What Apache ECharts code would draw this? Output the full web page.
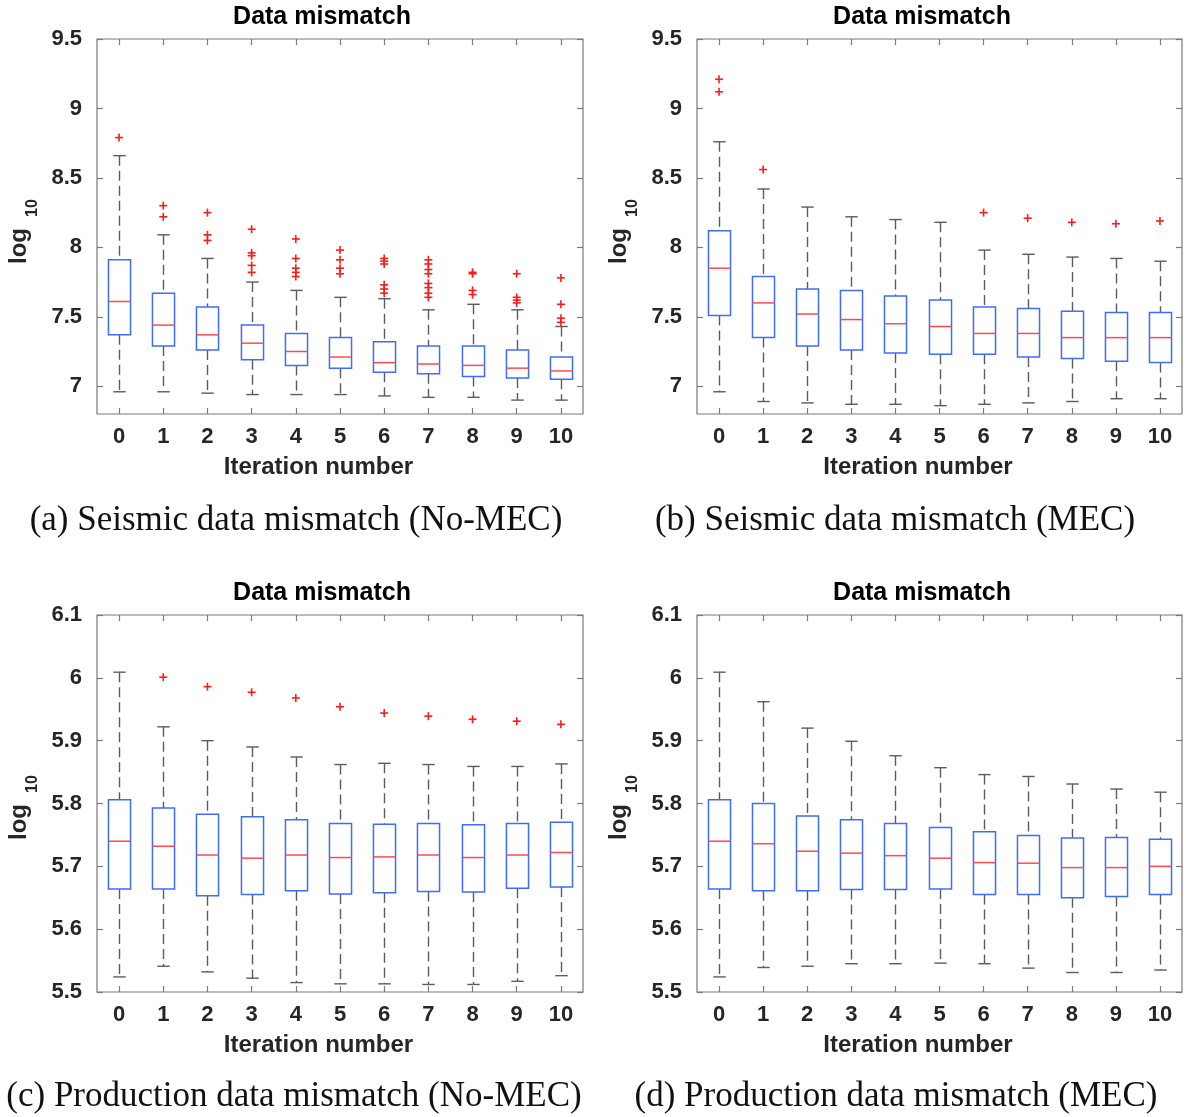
<!DOCTYPE html>
<html>
<head>
<meta charset="utf-8">
<script src="https://cdn.jsdelivr.net/npm/echarts@6/dist/echarts.min.js"></script>
<style>
html,body{margin:0;padding:0;background:#fff;}
#chart{width:1186px;height:1117px;}
</style>
</head>
<body>
<div id="chart"></div>
<script>
// ---------------- data ----------------
const categories = ['0','1','2','3','4','5','6','7','8','9','10'];
const yTicksSeismic = [7, 7.5, 8, 8.5, 9, 9.5];
const yTicksProduction = [5.5, 5.6, 5.7, 5.8, 5.9, 6.0, 6.1];
const panelTitles = ['Data mismatch','Data mismatch','Data mismatch','Data mismatch'];
const captions = ['(a) Seismic data mismatch (No-MEC)','(b) Seismic data mismatch (MEC)',
                  '(c) Production data mismatch (No-MEC)','(d) Production data mismatch (MEC)'];
const xAxisName = 'Iteration number';

// (a) seismic, No-MEC
const aLow  = [6.96, 6.96, 6.95, 6.94, 6.94, 6.94, 6.93, 6.92, 6.92, 6.90, 6.90];
const aQ1   = [7.37, 7.29, 7.26, 7.19, 7.15, 7.13, 7.10, 7.09, 7.07, 7.06, 7.05];
const aMed  = [7.61, 7.44, 7.37, 7.31, 7.25, 7.21, 7.17, 7.16, 7.15, 7.13, 7.11];
const aQ3   = [7.91, 7.67, 7.57, 7.44, 7.38, 7.35, 7.32, 7.29, 7.29, 7.26, 7.21];
const aHigh = [8.66, 8.09, 7.92, 7.75, 7.69, 7.64, 7.63, 7.55, 7.59, 7.55, 7.43];
const aOut  = [[0,8.79],[1,8.30],[1,8.22],[2,8.25],[2,8.09],[2,8.05],
  [3,8.13],[3,7.96],[3,7.94],[3,7.87],[3,7.82],
  [4,8.06],[4,7.92],[4,7.85],[4,7.82],[4,7.79],
  [5,7.98],[5,7.91],[5,7.85],[5,7.81],
  [6,7.92],[6,7.90],[6,7.88],[6,7.73],[6,7.70],[6,7.67],
  [7,7.91],[7,7.88],[7,7.84],[7,7.81],[7,7.74],[7,7.71],[7,7.67],[7,7.64],
  [8,7.82],[8,7.81],[8,7.69],[8,7.66],
  [9,7.81],[9,7.64],[9,7.62],[9,7.60],
  [10,7.78],[10,7.59],[10,7.49],[10,7.46]];

// (b) seismic, MEC
const bLow  = [6.96, 6.89, 6.88, 6.87, 6.87, 6.86, 6.87, 6.88, 6.89, 6.91, 6.91];
const bQ1   = [7.51, 7.35, 7.29, 7.26, 7.24, 7.23, 7.23, 7.21, 7.20, 7.18, 7.17];
const bMed  = [7.85, 7.60, 7.52, 7.48, 7.45, 7.43, 7.38, 7.38, 7.35, 7.35, 7.35];
const bQ3   = [8.12, 7.79, 7.70, 7.69, 7.65, 7.62, 7.57, 7.56, 7.54, 7.53, 7.53];
const bHigh = [8.76, 8.42, 8.29, 8.22, 8.20, 8.18, 7.98, 7.95, 7.93, 7.92, 7.90];
const bOut  = [[0,9.21],[0,9.12],[1,8.56],[6,8.25],[7,8.21],[8,8.18],[9,8.17],[10,8.19]];

// (c) production, No-MEC
const cLow  = [5.524, 5.541, 5.532, 5.522, 5.515, 5.513, 5.513, 5.512, 5.512, 5.517, 5.526];
const cQ1   = [5.664, 5.664, 5.653, 5.655, 5.661, 5.656, 5.658, 5.660, 5.659, 5.665, 5.667];
const cMed  = [5.740, 5.732, 5.718, 5.713, 5.718, 5.714, 5.715, 5.718, 5.714, 5.718, 5.722];
const cQ3   = [5.806, 5.793, 5.783, 5.779, 5.774, 5.768, 5.767, 5.768, 5.766, 5.768, 5.770];
const cHigh = [6.009, 5.922, 5.900, 5.890, 5.874, 5.862, 5.864, 5.862, 5.859, 5.859, 5.863];
const cOut  = [[1,6.001],[2,5.986],[3,5.977],[4,5.968],[5,5.954],[6,5.944],[7,5.939],[8,5.934],[9,5.931],[10,5.926]];

// (d) production, MEC
const dLow  = [5.524, 5.539, 5.541, 5.545, 5.545, 5.546, 5.545, 5.538, 5.531, 5.531, 5.535];
const dQ1   = [5.664, 5.661, 5.661, 5.663, 5.663, 5.664, 5.655, 5.655, 5.650, 5.652, 5.655];
const dMed  = [5.740, 5.736, 5.724, 5.721, 5.717, 5.713, 5.706, 5.705, 5.698, 5.698, 5.700];
const dQ3   = [5.806, 5.800, 5.780, 5.774, 5.768, 5.762, 5.755, 5.749, 5.745, 5.746, 5.743];
const dHigh = [6.009, 5.962, 5.920, 5.899, 5.876, 5.857, 5.846, 5.843, 5.831, 5.823, 5.818];
const dOut  = [];

// ---------------- build ----------------
const SANS = '"Liberation Sans", Arial, Helvetica, sans-serif';
const SERIF = '"Liberation Serif", "DejaVu Serif", serif';
const TICK_LABEL_COLOR = '#262626';
const FRAME_COLOR = '#7a7a7a';

function boxRows(lo, q1, md, q3, hi) {
  return categories.map((c, i) => [i, lo[i], q1[i], md[i], q3[i], hi[i]]);
}

const panels = [
  {rows: boxRows(aLow,aQ1,aMed,aQ3,aHigh), out: aOut, min: 6.8, max: 9.5, ticks: yTicksSeismic,
   grid: {left: 97, top: 39, width: 486, height: 375}},
  {rows: boxRows(bLow,bQ1,bMed,bQ3,bHigh), out: bOut, min: 6.8, max: 9.5, ticks: yTicksSeismic,
   grid: {left: 697, top: 39, width: 485, height: 375}},
  {rows: boxRows(cLow,cQ1,cMed,cQ3,cHigh), out: cOut, min: 5.5, max: 6.1, ticks: yTicksProduction,
   grid: {left: 97, top: 615, width: 486, height: 377}},
  {rows: boxRows(dLow,dQ1,dMed,dQ3,dHigh), out: dOut, min: 5.5, max: 6.1, ticks: yTicksProduction,
   grid: {left: 697, top: 615, width: 485, height: 377}}
];

function fmt(v) { return String(+Number(v).toFixed(2)); }

function renderBox(params, api) {
  const c = api.value(0);
  const lo = api.coord([c, api.value(1)]);
  const q1 = api.coord([c, api.value(2)]);
  const md = api.coord([c, api.value(3)]);
  const q3 = api.coord([c, api.value(4)]);
  const hi = api.coord([c, api.value(5)]);
  const bw = api.size([1, 0])[0];
  const hw = bw * 0.25, cw = bw * 0.14;
  const x = Math.round(lo[0]) + 0.5;
  const wStyle = {stroke: '#5c5c5c', lineWidth: 1.4, lineDash: [10, 5], fill: null};
  const cStyle = {stroke: '#5c5c5c', lineWidth: 1.4, fill: null};
  return {type: 'group', children: [
    {type: 'line', shape: {x1: x, y1: hi[1], x2: x, y2: q3[1]}, style: wStyle},
    {type: 'line', shape: {x1: x, y1: q1[1], x2: x, y2: lo[1]}, style: wStyle},
    {type: 'line', shape: {x1: x - cw, y1: hi[1], x2: x + cw, y2: hi[1]}, style: cStyle},
    {type: 'line', shape: {x1: x - cw, y1: lo[1], x2: x + cw, y2: lo[1]}, style: cStyle},
    {type: 'rect', shape: {x: x - hw, y: q3[1], width: 2 * hw, height: q1[1] - q3[1]},
     style: {fill: '#ffffff', stroke: '#3d6cff', lineWidth: 1.5}},
    {type: 'line', shape: {x1: x - hw, y1: md[1], x2: x + hw, y2: md[1]},
     style: {stroke: '#ff4a4a', lineWidth: 1.5}}
  ]};
}

function renderOutlier(params, api) {
  const p = api.coord([api.value(0), api.value(1)]);
  const s = 4;
  const st = {stroke: '#ff1a1a', lineWidth: 1.6};
  return {type: 'group', children: [
    {type: 'line', shape: {x1: p[0] - s, y1: p[1], x2: p[0] + s, y2: p[1]}, style: st},
    {type: 'line', shape: {x1: p[0], y1: p[1] - s, x2: p[0], y2: p[1] + s}, style: st}
  ]};
}

const option = {
  backgroundColor: '#ffffff',
  animation: false,
  grid: [], xAxis: [], yAxis: [], series: [], graphic: []
};

panels.forEach((p, i) => {
  option.grid.push(Object.assign({show: true, borderColor: FRAME_COLOR, borderWidth: 1.2,
    backgroundColor: '#ffffff'}, p.grid));
  const tickStyle = {show: true, inside: true, length: 6, alignWithLabel: true,
    lineStyle: {color: FRAME_COLOR, width: 1.2}};
  option.xAxis.push({
    type: 'category', gridIndex: i, data: categories, position: 'bottom',
    axisLine: {show: false}, axisTick: tickStyle,
    axisLabel: {show: true, interval: 0, margin: 12, color: TICK_LABEL_COLOR,
      fontFamily: SANS, fontWeight: 'bold', fontSize: 22},
    splitLine: {show: false},
    name: xAxisName, nameLocation: 'middle', nameGap: 41,
    nameTextStyle: {color: TICK_LABEL_COLOR, fontFamily: SANS, fontWeight: 'bold', fontSize: 24,
      padding: [0, 43, 0, 0]}
  });
  option.xAxis.push({
    type: 'category', gridIndex: i, data: categories, position: 'top',
    axisLine: {show: false}, axisTick: tickStyle, axisLabel: {show: false}, splitLine: {show: false}
  });
  const yTick = {show: true, inside: true, length: 6, customValues: p.ticks,
    lineStyle: {color: FRAME_COLOR, width: 1.2}};
  option.yAxis.push({
    type: 'value', gridIndex: i, min: p.min, max: p.max, position: 'left',
    axisLine: {show: false}, axisTick: yTick, splitLine: {show: false},
    axisLabel: {show: true, customValues: p.ticks, formatter: fmt, margin: 15,
      color: TICK_LABEL_COLOR, fontFamily: SANS, fontWeight: 'bold', fontSize: 22}
  });
  option.yAxis.push({
    type: 'value', gridIndex: i, min: p.min, max: p.max, position: 'right',
    axisLine: {show: false}, axisTick: yTick, splitLine: {show: false},
    axisLabel: {show: false}
  });
  option.series.push({
    type: 'custom', name: 'box' + i, xAxisIndex: 2 * i, yAxisIndex: 2 * i,
    renderItem: renderBox, data: p.rows,
    encode: {x: 0, y: [1, 2, 3, 4, 5]}, z: 2
  });
  option.series.push({
    type: 'custom', name: 'outliers' + i, xAxisIndex: 2 * i, yAxisIndex: 2 * i,
    renderItem: renderOutlier, data: p.out, encode: {x: 0, y: 1}, z: 3
  });

  const ox = p.grid.left - 97, oy = p.grid.top - 39;
  // panel title
  option.graphic.push({type: 'text', x: 322 + ox, y: 17 + oy, z: 10,
    style: {text: panelTitles[i], font: 'bold 25px ' + SANS, fill: '#000000',
      textAlign: 'center', textVerticalAlign: 'middle', align: 'center', verticalAlign: 'middle'}});
  // y axis name log10
  option.graphic.push({type: 'text', x: 19 + ox, y: 246 + oy, rotation: Math.PI / 2, z: 10,
    style: {text: 'log', font: 'bold 24px ' + SANS, fill: TICK_LABEL_COLOR,
      textAlign: 'center', textVerticalAlign: 'middle', align: 'center', verticalAlign: 'middle'}});
  option.graphic.push({type: 'text', x: 33 + ox, y: 208 + oy, rotation: Math.PI / 2, z: 10,
    style: {text: '10', font: 'bold 16px ' + SANS, fill: TICK_LABEL_COLOR,
      textAlign: 'center', textVerticalAlign: 'middle', align: 'center', verticalAlign: 'middle'}});
  // caption
  const capX = [296, 895, 294, 896][i];
  option.graphic.push({type: 'text', x: capX, y: 521 + oy, z: 10,
    style: {text: captions[i], font: '35px ' + SERIF, fill: '#111111',
      textAlign: 'center', textVerticalAlign: 'middle', align: 'center', verticalAlign: 'middle'}});
});

const chart = echarts.init(document.getElementById('chart'), null, {renderer: 'canvas'});
chart.setOption(option);
</script>
</body>
</html>
